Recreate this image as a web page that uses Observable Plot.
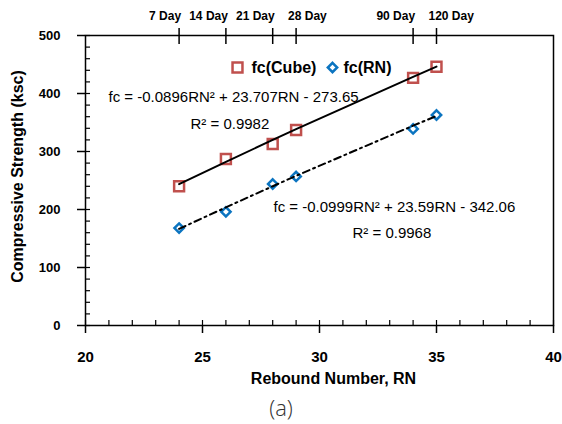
<!DOCTYPE html>
<html>
<head>
<meta charset="utf-8">
<script src="https://cdn.jsdelivr.net/npm/d3@7"></script>
<script src="https://cdn.jsdelivr.net/npm/@observablehq/plot@0.6"></script>
<style>
  body { margin: 0; background: #fff; }
  #chart svg { font-family: Arial, "Liberation Sans", sans-serif; }
  #caption { width: 562px; height: 34px; line-height: 34px; text-align: center;
             font-family: "Open Sans", sans-serif; font-weight: 300; font-size: 22px; color: #333; }
</style>
</head>
<body>
<div id="chart"></div>
<div id="caption">(a)</div>
<script>
// Data
const rn = [24, 26, 28, 29, 34, 35];
const cubeStrength = [240, 287, 313, 337, 427, 446];
const rnStrength = [168, 196, 244, 257, 339, 363];
const dayLabels = ["7 Day", "14 Day", "21 Day", "28 Day", "90 Day", "120 Day"];
const xTicks = [20, 25, 30, 35, 40];
const xMinor = d3.range(20, 41, 1);
const yTicks = [0, 100, 200, 300, 400, 500];
const yMinor = d3.range(0, 501, 20);
const cubeCoef = [-0.0896, 23.707, -273.65];
const rnCoef = [-0.0999, 23.59, -342.06];
const seriesNames = ["fc(Cube)", "fc(RN)"];
const xTitle = "Rebound Number, RN";
const yTitle = "Compressive Strength (ksc)";
const cubeEq = "fc = -0.0896RN² + 23.707RN - 273.65";
const cubeR2 = "R² = 0.9982";
const rnEq = "fc = -0.0999RN² + 23.59RN - 342.06";
const rnR2 = "R² = 0.9968";

const cubeData = rn.map((x, i) => ({x, y: cubeStrength[i]}));
const rnData = rn.map((x, i) => ({x, y: rnStrength[i]}));
const fit = (c) => rn.map(x => ({x, y: c[0] * x * x + c[1] * x + c[2]}));
const cubeFit = fit(cubeCoef);
const rnFit = fit(rnCoef);

const red = "#c0504d";
const blue = "#0b74c0";
const bold = {fontWeight: "bold", fill: "black"};
const plain = {fontWeight: "normal", fill: "black"};
const noLabel = () => "";

const chart = Plot.plot({
  width: 562,
  height: 390,
  marginLeft: 85,
  marginRight: 9,
  marginTop: 35,
  marginBottom: 65,
  style: {fontSize: "13px"},
  x: {domain: [20, 40]},
  y: {domain: [0, 500]},
  marks: [
    Plot.frame({stroke: "black", strokeWidth: 1.5}),
    // bottom axis ticks
    Plot.axisX(xTicks, {anchor: "bottom", tickSize: 8, tickFormat: noLabel, label: null, strokeWidth: 1.5}),
    Plot.axisX(xMinor, {anchor: "bottom", tickSize: -5, tickFormat: noLabel, label: null, strokeWidth: 1.2}),
    // left axis ticks
    Plot.axisY(yTicks, {anchor: "left", tickSize: 8, tickFormat: noLabel, label: null, strokeWidth: 1.5}),
    Plot.axisY(yMinor, {anchor: "left", tickSize: -5, tickFormat: noLabel, label: null, strokeWidth: 1.2}),
    // top axis (curing age) ticks
    Plot.axisX(rn, {anchor: "top", tickSize: 8, tickFormat: noLabel, label: null, strokeWidth: 1.5}),
    Plot.axisX(rn, {anchor: "top", tickSize: -8, tickFormat: noLabel, label: null, strokeWidth: 1.5}),
    // tick labels
    Plot.text(xTicks, {x: d => d, text: d => String(d), frameAnchor: "bottom", dy: 32, lineAnchor: "middle", textAnchor: "middle", fontSize: 15, ...bold}),
    Plot.text(yTicks, {y: d => d, text: d => String(d), frameAnchor: "left", dx: -25, textAnchor: "end", lineAnchor: "middle", fontSize: 13, ...bold}),
    Plot.text(rn, {x: d => d, text: (d, i) => dayLabels[i], filter: (d, i) => i !== 3 && i !== 5,
      frameAnchor: "top", dy: -19, dx: 2, textAnchor: "end", lineAnchor: "middle", fontSize: 12, ...bold}),
    Plot.text(rn, {x: d => d, text: (d, i) => dayLabels[i], filter: (d, i) => i === 3 || i === 5,
      frameAnchor: "top", dy: -19, dx: -8, textAnchor: "start", lineAnchor: "middle", fontSize: 12, ...bold}),
    // axis titles
    Plot.text([xTitle], {text: d => d, frameAnchor: "bottom", dx: 14, dy: 53, textAnchor: "middle", lineAnchor: "middle", fontSize: 16, ...bold}),
    Plot.text([yTitle], {text: d => d, frameAnchor: "left", dx: -68, dy: -4, rotate: -90, textAnchor: "middle", lineAnchor: "middle", fontSize: 16, ...bold}),
    // data
    Plot.dot(cubeData, {x: "x", y: "y", symbol: "square", r: 5.6, stroke: red, strokeWidth: 2.5, fill: "white"}),
    Plot.dot(rnData, {x: "x", y: "y", symbol: "diamond2", r: 4.2, stroke: blue, strokeWidth: 2.5, fill: "white"}),
    // trend lines
    Plot.line(cubeFit, {x: "x", y: "y", stroke: "black", strokeWidth: 2}),
    Plot.line(rnFit, {x: "x", y: "y", stroke: "black", strokeWidth: 2, strokeDasharray: "7,4,2,4"}),
    // equations
    Plot.text([cubeEq], {text: d => d, frameAnchor: "top-left", dx: 23, dy: 62, textAnchor: "start", lineAnchor: "middle", fontSize: 15, ...plain}),
    Plot.text([cubeR2], {text: d => d, frameAnchor: "top-left", dx: 105, dy: 89, textAnchor: "start", lineAnchor: "middle", fontSize: 15, ...plain}),
    Plot.text([rnEq], {text: d => d, frameAnchor: "top-left", dx: 188, dy: 172, textAnchor: "start", lineAnchor: "middle", fontSize: 15, ...plain}),
    Plot.text([rnR2], {text: d => d, frameAnchor: "top-left", dx: 267, dy: 198, textAnchor: "start", lineAnchor: "middle", fontSize: 15, ...plain}),
    // legend
    Plot.dot([seriesNames[0]], {frameAnchor: "top-left", dx: 152, dy: 32, symbol: "square", r: 5.6, stroke: red, strokeWidth: 2.5, fill: "white"}),
    Plot.text([seriesNames[0]], {text: d => d, frameAnchor: "top-left", dx: 166, dy: 32, textAnchor: "start", lineAnchor: "middle", fontSize: 16, ...bold}),
    Plot.dot([seriesNames[1]], {frameAnchor: "top-left", dx: 247, dy: 32, symbol: "diamond2", r: 4.2, stroke: blue, strokeWidth: 2.5, fill: "white"}),
    Plot.text([seriesNames[1]], {text: d => d, frameAnchor: "top-left", dx: 258, dy: 32, textAnchor: "start", lineAnchor: "middle", fontSize: 16, ...bold})
  ]
});
document.getElementById("chart").appendChild(chart);
</script>
</body>
</html>
